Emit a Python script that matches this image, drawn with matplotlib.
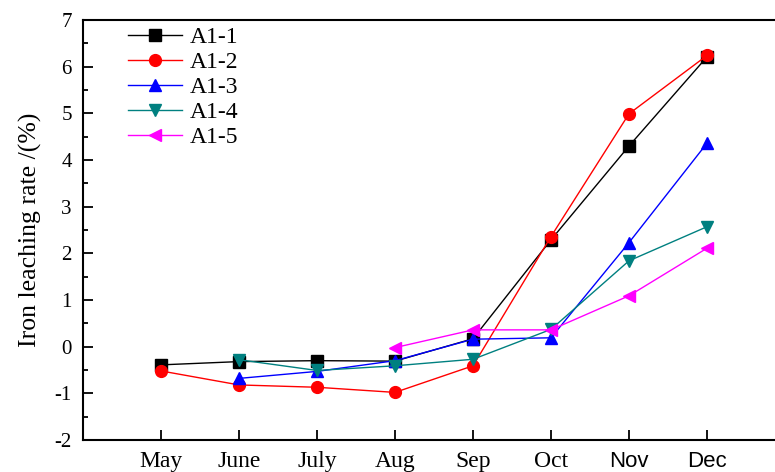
import matplotlib
matplotlib.use("Agg")
import matplotlib.pyplot as plt
from matplotlib.ticker import MultipleLocator

# Data
months = ["May", "June", "July", "Aug", "Sep", "Oct", "Nov", "Dec"]
a1_1 = [-0.39, -0.32, -0.30, -0.31, 0.17, 2.29, 4.30, 6.21]
a1_2 = [-0.52, -0.82, -0.87, -0.98, -0.41, 2.36, 4.99, 6.24]
a1_3 = [None, -0.68, -0.53, -0.30, 0.16, 0.19, 2.23, 4.36]
a1_4 = [None, -0.28, -0.51, -0.41, -0.27, 0.37, 1.84, 2.57]
a1_5 = [None, None, None, -0.02, 0.36, 0.36, 1.09, 2.11]

series = [
    ("A1-1", a1_1, "black", "s"),
    ("A1-2", a1_2, "red", "o"),
    ("A1-3", a1_3, "blue", "^"),
    ("A1-4", a1_4, "#008080", "v"),
    ("A1-5", a1_5, "magenta", "<"),
]

plt.rcParams["font.family"] = "Liberation Serif"
plt.rcParams["axes.unicode_minus"] = False

W, H = 775, 472
fig = plt.figure(figsize=(W / 100, H / 100), dpi=100)
ax = fig.add_axes([83 / W, (H - 440) / H, (782 - 83) / W, (440 - 20) / H])

for name, vals, color, marker in series:
    xs = [i for i, v in enumerate(vals) if v is not None]
    ys = [v for v in vals if v is not None]
    ax.plot(xs, ys, color=color, marker=marker, markersize=8.5, lw=1.0, label=name)

ax.set_xlim(-1, -1 + (782 - 83) / 78)
ax.set_ylim(-2, 7)
ax.set_xticks(range(len(months)))
ax.set_xticklabels(months)
ax.yaxis.set_major_locator(MultipleLocator(1))
ax.yaxis.set_minor_locator(MultipleLocator(0.5))

ax.tick_params(axis="both", which="major", direction="in", length=7, width=1.3,
               top=False, right=False)
ax.tick_params(axis="y", which="minor", direction="in", length=3.5, width=1.3, right=False)
ax.tick_params(axis="x", labelsize=17, pad=8)
ax.tick_params(axis="y", labelsize=15, pad=8)

# the last two month labels are set in a sans face in the original
for lbl in ax.get_xticklabels():
    if lbl.get_text() in ("Nov", "Dec"):
        lbl.set_fontfamily("Liberation Sans")
        lbl.set_fontsize(16)

for s in ["left", "bottom", "top"]:
    ax.spines[s].set_linewidth(1.5)
ax.spines["right"].set_visible(False)

ax.set_ylabel("Iron leaching rate /(%)", fontsize=18.5, labelpad=9)

ax.legend(loc="upper left", bbox_to_anchor=(0.051, 1.007), frameon=False,
          fontsize=17, handlelength=2.3, handletextpad=0.33, labelspacing=0.15,
          borderaxespad=0)

fig.savefig("out.png", dpi=100)
